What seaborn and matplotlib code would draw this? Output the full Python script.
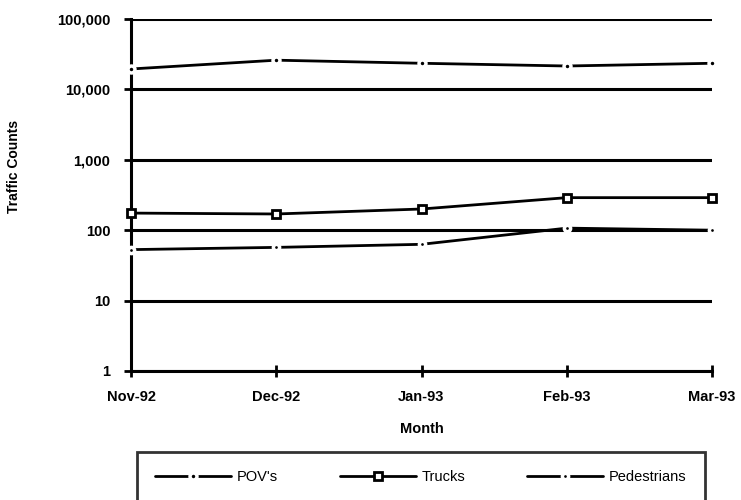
import matplotlib
matplotlib.use("Agg")
import matplotlib.pyplot as plt
import seaborn as sns
import pandas as pd
from matplotlib.ticker import FixedLocator, FuncFormatter, NullLocator

months = ["Nov-92", "Dec-92", "Jan-93", "Feb-93", "Mar-93"]
povs = [19500, 26000, 23500, 21500, 23500]
trucks = [175, 170, 200, 290, 290]
pedestrians = [53, 57, 63, 107, 100]
y_ticks = [1, 10, 100, 1000, 10000, 100000]

sns.set_theme(style="white")
plt.rcParams["font.family"] = ["Liberation Sans", "DejaVu Sans"]
plt.rcParams["text.color"] = "black"
plt.rcParams["axes.labelcolor"] = "black"
plt.rcParams["xtick.color"] = "black"
plt.rcParams["ytick.color"] = "black"

fig = plt.figure(figsize=(7.41, 5.0), dpi=100)
ax = fig.add_axes([131 / 741, 1 - 371 / 500, (712 - 131) / 741, (371 - 19) / 500])

series = [
    ("POV's", povs, dict(marker="o", markersize=5, markerfacecolor="black",
                         markeredgecolor="white", markeredgewidth=2.5)),
    ("Trucks", trucks, dict(marker="s", markersize=5.5, markerfacecolor="white",
                            markeredgecolor="black", markeredgewidth=2)),
    ("Pedestrians", pedestrians, dict(marker="o", markersize=4.5, markerfacecolor="black",
                                      markeredgecolor="white", markeredgewidth=2.5)),
]

for name, vals, style in series:
    df = pd.DataFrame({"month": months, "count": vals})
    sns.lineplot(data=df, x="month", y="count", ax=ax, color="black",
                 linewidth=2.0, label=name, clip_on=False, zorder=5, **style)

ax.set_yscale("log")
ax.set_ylim(1, 100000)
ax.set_xlim(0, len(months) - 1)
ax.yaxis.set_major_locator(FixedLocator(y_ticks))
ax.yaxis.set_minor_locator(NullLocator())
ax.yaxis.set_major_formatter(FuncFormatter(lambda v, p: f"{int(round(v)):,}"))

ax.grid(axis="y", color="black", linewidth=2.2)
ax.grid(axis="x", visible=False)
for side in ["top", "right"]:
    ax.spines[side].set_visible(False)
for side in ["left", "bottom"]:
    ax.spines[side].set_color("black")
    ax.spines[side].set_linewidth(2.2)

ax.tick_params(axis="y", which="major", left=True, direction="out", length=5, width=2,
               color="black", pad=10, labelsize=10.5, labelcolor="black")
ax.tick_params(axis="x", which="major", bottom=True, direction="inout", length=9, width=2,
               color="black", pad=9, labelsize=10.5, labelcolor="black")
for lab in ax.get_xticklabels() + ax.get_yticklabels():
    lab.set_fontweight("bold")

ax.set_xlabel("Month", fontsize=10.5, fontweight="bold", labelpad=13, color="black")
ax.set_ylabel("Traffic Counts", fontsize=10, fontweight="bold", color="black")
ax.yaxis.set_label_coords(-0.19, 0.58)

ax.get_legend().remove()
handles, labels = ax.get_legend_handles_labels()
leg = fig.legend(handles, labels, loc="upper left",
                 bbox_to_anchor=(137 / 741, 1 - 452 / 500, (705 - 137) / 741, 0.0),
                 mode="expand", ncol=3, fontsize=10.5, frameon=True, fancybox=False,
                 handlelength=5.2, handletextpad=0.4, borderpad=1.25,
                 borderaxespad=0)
leg.get_frame().set_edgecolor("black")
leg.get_frame().set_linewidth(2)
for t in leg.get_texts():
    t.set_color("black")

fig.savefig("out.png", dpi=100)
